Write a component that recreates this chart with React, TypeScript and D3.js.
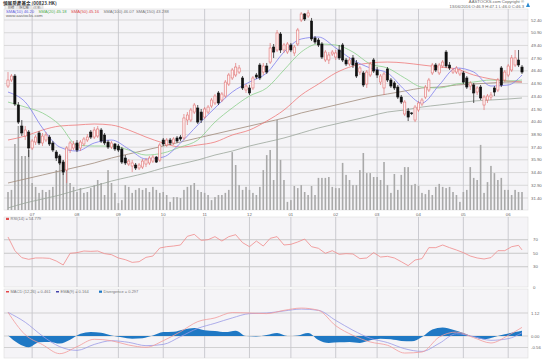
import React from "react";
import * as d3 from "d3";

// daily candles, oldest first
const opens = [
  44.61, 45.32, 45.79, 42.37, 39.89, 38.71, 39.18, 37.3, 38.0, 39.07,
  37.89, 38.24, 38.59, 37.89, 36.82, 36.35, 35.64, 34.7, 37.06, 37.3,
  37.89, 37.3, 37.77, 38.24, 39.18, 38.59, 38.71, 39.42, 38.83, 38.0,
  37.41, 37.77, 37.53, 37.18, 36.12, 35.41, 35.17, 35.29, 34.94, 35.05,
  35.41, 35.53, 35.76, 36.23, 35.88, 38.24, 37.65, 38.24, 37.89, 38.48,
  38.59, 38.48, 40.6, 40.6, 41.54, 42.02, 41.54, 40.95, 41.54, 42.25,
  42.61, 43.79, 42.96, 43.43, 44.85, 45.56, 45.91, 46.26, 45.56, 44.14,
  44.38, 44.38, 45.91, 47.09, 46.26, 46.97, 47.44, 49.21, 48.86, 50.75,
  48.86, 48.62, 49.45, 48.51, 49.57, 52.4, 53.11, 52.87, 52.28, 50.28,
  50.04, 49.57, 47.68, 47.68, 48.39, 48.03, 48.86, 49.45, 47.68, 47.21,
  47.92, 47.33, 46.26, 46.15, 44.85, 45.91, 47.68, 46.5, 45.08, 44.38,
  46.62, 45.32, 44.97, 44.49, 43.31, 41.31, 41.66, 41.43, 40.6, 41.78,
  42.49, 43.31, 44.14, 46.15, 47.09, 46.15, 46.97, 48.62, 47.09, 46.26,
  46.26, 46.03, 46.15, 45.56, 44.61, 44.73, 43.9, 44.49, 42.37, 42.96,
  43.31, 44.38, 44.14, 46.74, 45.32, 45.91, 46.5, 47.09, 47.68, 46.85,
];
const highs = [
  46.26, 46.03, 46.03, 42.72, 40.6, 39.89, 39.42, 38.36, 38.83, 39.3,
  39.07, 39.18, 38.83, 38.12, 37.06, 36.59, 35.88, 37.53, 38.12, 38.12,
  38.24, 38.24, 38.59, 38.95, 39.42, 39.77, 39.89, 39.66, 39.07, 38.24,
  38.12, 37.89, 37.77, 37.41, 36.47, 36.0, 35.88, 35.53, 35.53, 36.0,
  36.12, 36.35, 36.47, 36.35, 37.89, 38.48, 38.48, 38.48, 38.59, 38.71,
  38.83, 41.31, 41.54, 42.02, 42.61, 42.37, 41.9, 42.13, 42.37, 43.2,
  43.67, 44.02, 43.9, 45.32, 46.15, 46.74, 47.33, 47.09, 45.79, 44.85,
  44.73, 45.79, 46.15, 47.33, 47.33, 47.33, 49.69, 49.57, 51.22, 50.98,
  49.69, 49.8, 49.69, 49.45, 51.46, 53.34, 53.23, 53.58, 52.64, 50.51,
  50.28, 49.8, 48.86, 48.62, 48.86, 48.86, 49.45, 49.69, 47.92, 48.03,
  48.27, 47.68, 46.97, 46.38, 46.5, 47.44, 47.92, 46.85, 46.03, 46.26,
  46.85, 45.56, 45.2, 44.73, 43.55, 42.96, 42.02, 41.54, 42.37, 42.84,
  43.2, 44.73, 45.56, 47.33, 47.33, 47.33, 47.68, 48.86, 47.44, 46.74,
  46.97, 46.74, 46.38, 45.79, 45.2, 44.97, 44.61, 44.73, 43.55, 43.67,
  43.9, 44.61, 45.56, 46.97, 46.5, 47.21, 48.27, 48.86, 48.86, 47.09,
];
const lows = [
  44.38, 45.08, 42.25, 40.13, 38.71, 38.24, 36.23, 37.06, 37.65, 37.65,
  37.53, 38.0, 37.53, 36.82, 35.76, 35.29, 34.11, 33.17, 36.71, 37.06,
  36.82, 36.94, 37.53, 38.0, 38.36, 38.36, 38.48, 37.89, 37.65, 37.18,
  37.18, 36.94, 36.82, 35.41, 35.29, 35.17, 34.46, 34.7, 34.7, 34.82,
  35.05, 35.29, 35.53, 35.53, 35.64, 37.53, 37.41, 37.65, 37.65, 37.89,
  38.12, 38.24, 40.01, 40.36, 41.31, 40.13, 40.25, 40.72, 41.31, 42.02,
  42.37, 42.37, 42.72, 43.2, 44.61, 45.32, 45.67, 46.03, 44.14, 43.79,
  43.55, 44.14, 45.44, 45.32, 45.91, 46.03, 47.21, 47.92, 48.62, 48.51,
  48.51, 48.39, 48.62, 48.15, 49.33, 52.16, 52.28, 52.64, 49.92, 49.57,
  49.21, 47.8, 47.44, 47.21, 48.15, 47.68, 47.68, 47.44, 46.97, 46.97,
  46.74, 45.56, 45.91, 44.49, 44.38, 45.67, 46.15, 45.56, 44.73, 43.55,
  45.08, 44.38, 44.14, 43.08, 42.49, 41.07, 40.48, 41.19, 40.36, 41.54,
  42.25, 43.08, 43.9, 45.91, 46.26, 45.91, 46.74, 46.74, 46.5, 46.03,
  46.03, 45.79, 44.85, 44.26, 44.14, 42.61, 43.55, 42.96, 41.78, 42.61,
  42.96, 43.43, 43.9, 44.49, 45.08, 45.67, 46.26, 46.85, 46.85, 46.03,
];
const closes = [
  45.32, 45.79, 42.49, 40.36, 39.07, 39.42, 37.3, 38.12, 38.59, 37.89,
  38.71, 38.83, 37.77, 37.06, 36.12, 35.53, 34.46, 37.3, 37.89, 37.77,
  37.06, 38.0, 38.36, 38.59, 38.59, 39.42, 39.54, 38.12, 37.89, 37.41,
  37.89, 37.18, 37.06, 35.64, 35.53, 35.76, 35.53, 34.94, 35.29, 35.76,
  35.88, 36.12, 36.23, 35.64, 37.65, 37.77, 38.24, 37.89, 38.36, 38.12,
  38.36, 40.84, 41.19, 41.78, 42.37, 40.36, 40.6, 41.9, 42.13, 42.96,
  43.43, 42.61, 43.67, 45.08, 45.91, 46.5, 46.85, 46.74, 44.38, 44.61,
  43.79, 45.56, 45.67, 45.56, 46.97, 46.26, 49.1, 48.62, 50.87, 48.86,
  49.45, 49.57, 48.86, 49.21, 51.22, 53.11, 52.52, 53.23, 50.16, 49.8,
  49.45, 48.03, 48.62, 48.27, 48.62, 48.51, 47.92, 47.68, 47.21, 47.68,
  47.09, 45.79, 46.74, 44.73, 46.26, 47.21, 46.38, 45.91, 45.79, 46.03,
  45.32, 44.61, 44.38, 43.31, 42.72, 42.72, 40.95, 41.37, 42.13, 42.61,
  42.96, 44.49, 45.32, 47.09, 46.5, 47.09, 47.44, 46.97, 46.74, 46.5,
  46.74, 46.5, 45.08, 44.49, 44.97, 43.79, 44.38, 43.2, 43.31, 43.43,
  43.55, 43.9, 45.32, 44.73, 46.26, 46.97, 47.92, 47.92, 47.09, 46.26,
];
// volume, millions of shares
const volumes = [
  6, 6.7, 22, 28, 18, 18, 20, 9, 7.7, 5.7,
  6.7, 6, 6.7, 7.7, 13.3, 18.3, 16.7, 18.3, 9, 7.7,
  6, 7.3, 5.7, 6, 7.3, 8.3, 10, 9, 5, 13.3,
  9, 5.7, 2.3, 3.3, 8.3, 7.7, 5.7, 6.7, 7.3, 6.7,
  7.3, 6, 7.7, 6.7, 5.7, 6, 5, 2.7, 4.3, 4.3,
  4, 6.7, 7.7, 8.3, 9, 6.7, 6, 5.7, 5, 3.3,
  4.3, 5, 5, 5.7, 6.7, 19.3, 15, 8.3, 6.7, 7.7,
  6.7, 5.7, 5, 7.7, 13.3, 18.3, 20, 10, 30, 16.7,
  10, 2.7, 3.3, 8, 7.3, 8.3, 6, 5, 8, 5,
  10.7, 10.7, 10.7, 11, 7.7, 7.3, 7.3, 15.7, 11.7, 10,
  8.3, 8.3, 13.3, 19, 12.3, 12.3, 11, 11, 10, 16,
  8.3, 5.7, 12, 6.7, 11.7, 14.3, 14.3, 8.3, 8.7, 8,
  5.7, 5.3, 6.7, 5, 7.7, 8.7, 7.7, 7.3, 7.7, 6,
  5, 2.7, 6, 6.7, 14.3, 10.7, 10, 21.7, 5.7, 9.3,
  14.7, 12.3, 10, 10.7, 6.7, 6.7, 5, 6.7, 6, 6,
];

const monthTickIndex = [7, 20, 32, 45, 57, 70, 82, 95, 107, 119, 132, 145];
const monthTickLabels = ["07", "08", "09", "10", "11", "12", "01", "02", "03", "04", "05", "06"];
const priceTicks = [52.4, 50.9, 49.4, 47.9, 46.4, 44.9, 43.4, 41.9, 40.4, 38.9, 37.4, 35.9, 34.4, 32.9, 31.4];
const rsiTicks = [70, 50, 30, 0];
const macdTicks = [1.12, 0, -0.56];

// moving averages, read every 5th session
const smaIndex = d3.range(0, 150, 5).concat([149]);
const sma10 = [43.9, 42.72, 39.66, 37.41, 36.94, 37.89, 38.24, 37.18, 36.0, 36.23, 37.89, 40.01, 42.02, 43.9, 45.08, 46.15, 48.62, 50.16, 50.39, 49.1, 47.68, 46.74, 46.15, 44.14, 42.61, 44.73, 46.74, 46.26, 44.61, 44.73, 45.91];
const sma20 = [42.72, 42.13, 41.43, 40.01, 37.65, 37.53, 37.53, 37.06, 36.47, 36.71, 37.41, 38.24, 40.36, 42.02, 43.43, 44.38, 46.5, 48.62, 49.57, 49.45, 48.62, 47.21, 46.74, 45.56, 44.49, 44.38, 44.85, 45.08, 45.32, 45.2, 45.32];
const sma50 = [38.24, 38.71, 39.42, 39.89, 40.01, 40.13, 40.01, 39.42, 38.59, 37.89, 37.41, 37.65, 38.0, 38.83, 39.42, 40.48, 41.78, 43.55, 44.85, 46.15, 46.97, 47.33, 47.44, 47.33, 47.09, 46.85, 46.62, 45.91, 45.44, 45.2, 45.08];
const sma100 = [33.17, 33.64, 34.11, 34.58, 35.05, 35.53, 36.12, 36.59, 37.06, 37.53, 38.0, 38.48, 38.95, 39.42, 39.89, 40.36, 40.84, 41.43, 41.9, 42.37, 42.84, 43.31, 43.67, 44.02, 44.38, 44.49, 44.73, 44.85, 44.97, 45.08, 45.08];
const sma150 = [30.22, 30.81, 31.28, 31.75, 32.34, 32.81, 33.4, 33.87, 34.35, 34.94, 35.41, 35.88, 36.47, 36.94, 37.53, 38.0, 38.48, 39.07, 39.66, 40.13, 40.6, 41.07, 41.54, 41.78, 42.13, 42.37, 42.61, 42.84, 42.96, 43.08, 43.2];

// RSI(14), read every 2nd session
const rsiIndex = d3.range(0, 150, 2).concat([149]);
const rsi14 = [
  74.1, 53.8, 43.5, 41.0, 43.0, 43.0, 42.5, 38.5, 32.6, 49.9,
  50.9, 53.3, 52.8, 53.3, 49.4, 47.9, 43.0, 40.5, 36.5, 37.5,
  43.9, 45.9, 57.8, 59.7, 60.7, 62.2, 75.1, 78.0, 69.1, 70.1,
  74.6, 68.1, 74.6, 77.5, 65.7, 59.7, 68.1, 60.7, 72.1, 74.6,
  62.2, 63.2, 66.7, 71.1, 59.7, 57.3, 49.9, 53.8, 48.4, 49.4,
  48.9, 42.0, 43.0, 50.9, 44.4, 45.4, 43.0, 37.5, 31.6, 40.0,
  42.0, 58.3, 58.3, 62.2, 58.3, 54.8, 50.9, 45.9, 43.0, 41.5,
  43.5, 53.8, 53.8, 59.7, 61.7, 55.0,
];

// MACD, read every 5th session
const macdIndex = d3.range(0, 150, 5).concat([149]);
const macdLine = [1.15, 0.06, -0.42, -0.86, -0.52, -0.16, -0.23, -0.44, -0.55, -0.23, 0.21, 0.7, 0.88, 1.14, 1.12, 1.09, 1.25, 1.36, 1.25, 0.5, 0.03, -0.29, -0.45, -0.83, -0.78, -0.05, 0.19, -0.08, -0.34, 0.03, 0.42];
const signalLine = [1.15, 0.67, 0.0, -0.52, -0.7, -0.41, -0.23, -0.31, -0.47, -0.41, -0.03, 0.37, 0.62, 0.88, 1.09, 1.12, 1.22, 1.31, 1.25, 0.76, 0.28, -0.11, -0.32, -0.62, -0.75, -0.36, 0.11, -0.03, -0.21, -0.13, 0.16];
// divergence, read every 3rd session
const divIndex = d3.range(0, 150, 3).concat([149]);
const divergence = [
  0.02, -0.37, -0.55, -0.31, -0.29, -0.37, -0.18, 0.11, 0.19, 0.16,
  0.03, -0.06, -0.13, -0.11, 0.02, 0.19, 0.21, 0.32, 0.39, 0.28,
  0.24, 0.19, 0.26, 0.0, -0.02, 0.05, 0.15, 0.0, 0.03, 0.15,
  -0.19, -0.34, -0.31, -0.29, -0.34, -0.21, -0.13, -0.16, -0.24, -0.26,
  -0.05, 0.32, 0.42, 0.31, 0.15, -0.05, -0.16, -0.05, 0.08, 0.19,
  0.26,
];

const smaLegend = [
  { text: "SMA(10) 46.20", color: "#5d5de0" },
  { text: "SMA(20) 45.18", color: "#4fae4f" },
  { text: "SMA(50) 45.16", color: "#e04848" },
  { text: "SMA(100) 46.07", color: "#777" },
  { text: "SMA(150) 43.288", color: "#777" },
];

const FONT = "'Liberation Sans', Arial, sans-serif";
const CJK = "'Noto Sans CJK TC', sans-serif";

export default function App() {
  const left = 4;
  const right = 528;
  const x = d3.scaleLinear().domain([0, closes.length - 1]).range([8, 522]);
  const yPrice = d3.scaleLinear().domain([31.4, 52.4]).range([198, 20]);
  const yVol = d3.scaleLinear().domain([0, 30]).range([210, 120]);
  const yRsi = d3.scaleLinear().domain([0, 100]).range([287, 219.5]);
  const yMacd = d3.scaleLinear().domain([-0.56, 1.12]).range([347.5, 313]);

  const panels = [
    [9, 210],
    [217, 287],
    [289, 358],
  ];

  const smaPath = (vals: number[]) =>
    d3
      .line<number>()
      .x((_, k) => x(smaIndex[k]))
      .y((v) => yPrice(v))
      .curve(d3.curveMonotoneX)(vals) || "";

  const rsiPath =
    d3
      .line<number>()
      .x((_, k) => x(rsiIndex[k]))
      .y((v) => yRsi(v))(rsi14) || "";

  const macdPath = (vals: number[]) =>
    d3
      .line<number>()
      .x((_, k) => x(macdIndex[k]))
      .y((v) => yMacd(v))
      .curve(d3.curveMonotoneX)(vals) || "";

  const divPath =
    d3
      .area<number>()
      .x((_, k) => x(divIndex[k]))
      .y0(yMacd(0))
      .y1((v) => yMacd(v))
      .curve(d3.curveMonotoneX)(divergence) || "";

  const bodyW = 2.2;

  return (
    <svg
      width={550}
      height={362}
      style={{ position: "absolute", left: 0, top: 0, background: "#fff" }}
      fontFamily={FONT}
    >
      {/* header */}
      <text x={3} y={5} fontSize={4.6} fontWeight="bold" fill="#333" fontFamily={CJK}>
        領展房產基金 (00823.HK)
      </text>
      {["日線", "陰陽燭", "(三年)"].map((t, k) => (
        <g key={t}>
          <rect x={5 + k * 13} y={5.6} width={12} height={3.6} fill="#f0f0f0" stroke="#bbb" strokeWidth={0.4} />
          <text x={11 + k * 13} y={8.5} fontSize={3.2} textAnchor="middle" fill="#555" fontFamily={CJK}>
            {t}
          </text>
        </g>
      ))}
      <text x={524} y={3.4} fontSize={4.2} textAnchor="end" fill="#666">
        AASTOCKS.com Copyright ®
      </text>
      <text x={524} y={7.8} fontSize={4.2} textAnchor="end" fill="#666">
        13/06/2016 O:46.9 H:47.1 L:46.0 C:46.3
      </text>
      <path d="M526,7 L528,2.5 L530,7 Z" fill="#2a8ad0" />

      {/* panel backgrounds */}
      {panels.map(([a, b], k) => (
        <rect key={k} x={left} y={a} width={right - left} height={b - a} fill="#f5f4f7" stroke="#dcdcdc" strokeWidth={0.6} />
      ))}

      {/* horizontal grid and right-hand labels */}
      {priceTicks.map((t) => (
        <g key={t}>
          <line x1={left} x2={right} y1={yPrice(t)} y2={yPrice(t)} stroke="#d2d2d2" strokeWidth={0.8} />
          <text x={531} y={yPrice(t) + 1.5} fontSize={4.3} fill="#666">
            {t.toFixed(2)}
          </text>
        </g>
      ))}
      {rsiTicks.map((t) => (
        <g key={"r" + t}>
          {t > 0 && <line x1={left} x2={right} y1={yRsi(t)} y2={yRsi(t)} stroke="#bdbdbd" strokeWidth={0.8} />}
          <text x={533} y={yRsi(t) + 1.5} fontSize={4.3} fill="#666">
            {t}
          </text>
        </g>
      ))}
      {macdTicks.map((t) => (
        <g key={"m" + t}>
          <line x1={left} x2={right} y1={yMacd(t)} y2={yMacd(t)} stroke="#c8c8c8" strokeWidth={0.8} />
          <text x={531} y={yMacd(t) + 1.5} fontSize={4.3} fill="#666">
            {t.toFixed(2)}
          </text>
        </g>
      ))}

      {/* vertical month grid */}
      {monthTickIndex.map((m, k) => (
        <g key={"v" + m}>
          {panels.map(([a, b], p) => (
            <line key={p} x1={x(m)} x2={x(m)} y1={a} y2={b} stroke="#c6c6cc" strokeWidth={0.9} />
          ))}
          <text x={x(m)} y={215.5} fontSize={4.3} textAnchor="middle" fill="#666">
            {monthTickLabels[k]}
          </text>
        </g>
      ))}

      {/* volume */}
      {volumes.map((v, i) => (
        <rect key={"vol" + i} x={x(i) - 0.8} width={1.6} y={yVol(v)} height={210 - yVol(v)} fill="#a9a9a9" />
      ))}

      {/* moving averages */}
      <path d={smaPath(sma150)} fill="none" stroke="#9aa69a" strokeWidth={0.8} />
      <path d={smaPath(sma100)} fill="none" stroke="#a08a7a" strokeWidth={0.8} />
      <path d={smaPath(sma50)} fill="none" stroke="#ef7a7a" strokeWidth={0.8} />
      <path d={smaPath(sma20)} fill="none" stroke="#8ccf8c" strokeWidth={0.8} />
      <path d={smaPath(sma10)} fill="none" stroke="#7f7fee" strokeWidth={0.8} />

      {/* candles */}
      {closes.map((c, i) => {
        const o = opens[i];
        const up = c >= o;
        const top = yPrice(Math.max(o, c));
        const h = Math.max(0.7, Math.abs(yPrice(o) - yPrice(c)));
        const col = up ? "#e27373" : "#111";
        return (
          <g key={"c" + i}>
            <line x1={x(i)} x2={x(i)} y1={yPrice(highs[i])} y2={yPrice(lows[i])} stroke={col} strokeWidth={0.7} />
            <rect
              x={x(i) - bodyW / 2}
              y={top}
              width={bodyW}
              height={h}
              fill={up ? "#fdf1f1" : "#111"}
              stroke={col}
              strokeWidth={0.6}
            />
          </g>
        );
      })}

      {/* legends, main panel */}
      {smaLegend.map((s, k) => (
        <text key={s.text} x={6 + k * 32.5} y={12.6} fontSize={4.2} fill={s.color}>
          {s.text}
        </text>
      ))}
      <text x={6} y={17} fontSize={4.3} fill="#666">
        www.aastocks.com
      </text>

      {/* RSI */}
      <path d={rsiPath} fill="none" stroke="#f08a8a" strokeWidth={0.8} />
      <rect x={6} y={217.8} width={3} height={2.2} fill="#e05050" />
      <text x={10.5} y={220} fontSize={4} fill="#777">
        RSI(14) = 54.779
      </text>

      {/* MACD */}
      <path d={divPath} fill="#1f78c4" />
      <path d={macdPath(signalLine)} fill="none" stroke="#9a9ae6" strokeWidth={0.8} />
      <path d={macdPath(macdLine)} fill="none" stroke="#f29a9a" strokeWidth={0.8} />
      <rect x={6} y={291.2} width={3} height={1.2} fill="#e02020" />
      <text x={10.5} y={293} fontSize={4} fill="#777">
        MACD (12,26) = 0.461
      </text>
      <rect x={56} y={291.2} width={3} height={1.2} fill="#1a1a9a" />
      <text x={60.5} y={293} fontSize={4} fill="#777">
        EMA(9) = 0.164
      </text>
      <rect x={99} y={290.6} width={3} height={2.2} fill="#1f78c4" />
      <text x={103.5} y={293} fontSize={4} fill="#777">
        Divergence = 0.297
      </text>
    </svg>
  );
}
